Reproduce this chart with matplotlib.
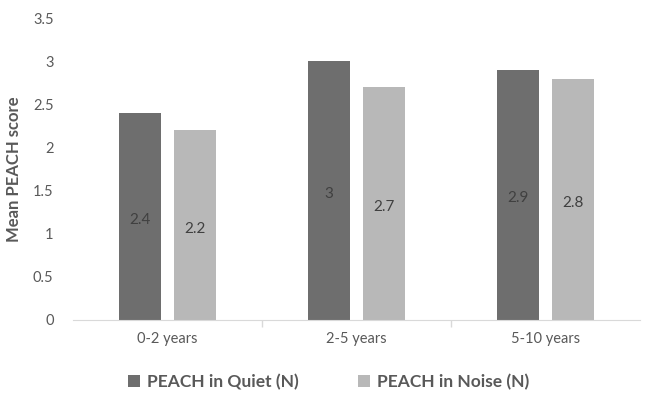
import matplotlib
matplotlib.use("Agg")
import matplotlib.pyplot as plt
import numpy as np

categories = ["0-2 years", "2-5 years", "5-10 years"]
quiet = [2.4, 3.0, 2.9]
noise = [2.2, 2.7, 2.8]
series_names = ["PEACH in Quiet (N)", "PEACH in Noise (N)"]
yticks = [0, 0.5, 1, 1.5, 2, 2.5, 3, 3.5]

plt.rcParams['font.family'] = ['Lato', 'DejaVu Sans']

fig = plt.figure(figsize=(6.48, 3.95), dpi=100)
ax = fig.add_axes([0.1127, 0.19, 0.875, 0.764])

x = np.arange(len(categories))
w = 0.22
off = 0.145
c_quiet = "#6e6e6e"
c_noise = "#b8b8b8"
b1 = ax.bar(x - off, quiet, w, color=c_quiet, label=series_names[0])
b2 = ax.bar(x + off, noise, w, color=c_noise, label=series_names[1])

for bars, vals in ((b1, quiet), (b2, noise)):
    for b, v in zip(bars, vals):
        ax.text(b.get_x() + b.get_width() / 2, v / 2 - 0.04, f"{v:g}",
                ha="center", va="center", fontsize=11, color="#404040")

ax.set_xlim(-0.5, 2.5)
ax.set_ylim(0, 3.5)
ax.set_yticks(yticks)
ax.set_yticklabels([f"{t:g}" for t in yticks], fontsize=10.5, color="#595959")
ax.set_xticks(x)
ax.set_xticklabels(categories, fontsize=10.5, color="#595959")
ax.tick_params(axis="x", length=0, pad=9)
ax.tick_params(axis="y", length=0, pad=14)
# category boundary ticks
ax.set_xticks([0.5, 1.5], minor=True)
ax.tick_params(axis="x", which="minor", length=5, color="#d9d9d9", width=1)

for s in ("top", "right", "left"):
    ax.spines[s].set_visible(False)
ax.spines["bottom"].set_color("#d9d9d9")

ax.set_ylabel("Mean PEACH score", fontsize=12, fontweight="bold", color="#595959", labelpad=8)

leg = fig.legend(handles=[b1, b2], loc="center", bbox_to_anchor=(0.507, 0.033), ncol=2,
                 frameon=False, handlelength=0.7, handleheight=0.7, columnspacing=3.4,
                 handletextpad=0.4, prop={"size": 12.5, "weight": "bold"})
for t in leg.get_texts():
    t.set_color("#595959")

fig.savefig("out.png", dpi=100)
